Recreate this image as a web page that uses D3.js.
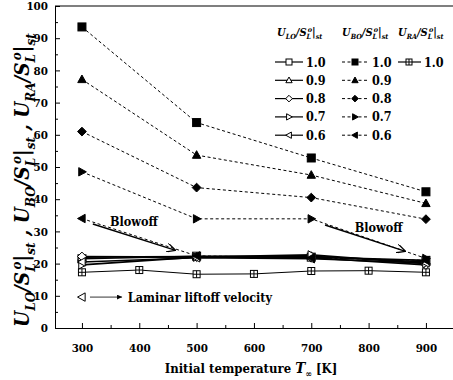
<!doctype html>
<html>
<head>
<meta charset="UTF-8">
<title>Blowoff and liftoff velocities</title>
<style>
	body { margin: 0; background: #fff; }
	svg text { font-weight: bold; fill: #000; font-stretch: condensed; }
</style>
</head>
<body>
<script src="https://cdn.jsdelivr.net/npm/d3@7"></script>
<script>
	// ---- data ----
	var temps = [300, 500, 700, 900];
	var ratioLabels = ['1.0', '0.9', '0.8', '0.7', '0.6'];

	// blowoff velocity (filled, dashed)
	var bo10 = [93.5, 63.8, 52.8, 42.3];
	var bo09 = [77.2, 53.7, 47.5, 38.7];
	var bo08 = [61.0, 43.6, 40.5, 33.8];
	var bo07 = [48.5, 33.9, 33.9, 21.6];
	var bo06 = [34.0, 22.4, 21.8, 21.0];

	// liftoff velocity (open, solid)
	var lo10 = [21.5, 22.3, 22.0, 21.0];
	var lo09 = [22.0, 22.2, 22.3, 20.5];
	var lo08 = [22.2, 22.0, 21.8, 19.6];
	var lo07 = [19.6, 22.0, 22.7, 20.0];
	var lo06 = [20.5, 21.8, 21.5, 20.2];

	// reattachment velocity, ratio 1.0
	var raTemps = [300, 400, 500, 600, 700, 800, 900];
	var raVals = [17.3, 18.0, 16.7, 16.8, 17.7, 17.8, 17.3];

	// laminar liftoff velocity
	var lamTemps = [300];
	var lamVals = [9.6];

	var xTicks = [300, 400, 500, 600, 700, 800, 900];
	var xMinor = [350, 450, 550, 650, 750, 850];
	var yTicks = [0, 10, 20, 30, 40, 50, 60, 70, 80, 90, 100];
	var yMinor = [5, 15, 25, 35, 45, 55, 65, 75, 85, 95];

	var shapes = ['square', 'triUp', 'diamond', 'triRight', 'triLeft'];
	var boSeries = [bo10, bo09, bo08, bo07, bo06];
	var loSeries = [lo10, lo09, lo08, lo07, lo06];

	var w = 453, h = 380;
	var serif = 'DejaVu Serif';

	var svg = d3.select('body').append('svg')
		.attr('width', w)
		.attr('height', h)
		.style('font-family', serif);

	var xScale = d3.scaleLinear().domain([253, 950]).range([55, 454.6]);
	var yScale = d3.scaleLinear().domain([0, 100]).range([328, 6]);

	/**
	* draw one marker
	*/
	var drawMarker = function(g, shape, filled, cx, cy, r) {
		var fill = filled ? '#000' : '#fff';
		var pts;
		if (shape === 'square' || shape === 'squareCross') {
			g.append('rect')
				.attr('x', cx - r).attr('y', cy - r)
				.attr('width', 2 * r).attr('height', 2 * r)
				.attr('fill', fill).attr('stroke', '#000').attr('stroke-width', 1);
			if (shape === 'squareCross') {
				g.append('path')
					.attr('d', 'M' + (cx - r) + ',' + cy + 'H' + (cx + r) + 'M' + cx + ',' + (cy - r) + 'V' + (cy + r))
					.attr('stroke', '#000').attr('stroke-width', 1);
			}
			return;
		}
		if (shape === 'triUp') pts = [[0, -r * 1.1], [r * 1.05, r * 0.8], [-r * 1.05, r * 0.8]];
		if (shape === 'diamond') pts = [[0, -r * 1.1], [r * 1.1, 0], [0, r * 1.1], [-r * 1.1, 0]];
		if (shape === 'triRight') pts = [[r * 1.1, 0], [-r * 0.8, -r * 1.05], [-r * 0.8, r * 1.05]];
		if (shape === 'triLeft') pts = [[-r * 1.1, 0], [r * 0.8, -r * 1.05], [r * 0.8, r * 1.05]];
		g.append('polygon')
			.attr('points', pts.map(function(p) { return (cx + p[0]) + ',' + (cy + p[1]); }).join(' '))
			.attr('fill', fill).attr('stroke', '#000').attr('stroke-width', 1);
	};

	/**
	* text with sub/superscripts; parts = [[text, kind, dx]]
	*/
	var richText = function(t, parts, size) {
		var cur = 0;
		parts.forEach(function(p) {
			var kind = p[1];
			var target = kind === 'sub' ? size * 0.3 : (kind === 'sup' ? -size * 0.4 : 0);
			var ts = t.append('tspan')
				.attr('dy', target - cur)
				.style('font-size', (kind ? size * 0.65 : size) + 'px')
				.text(p[0]);
			if (p[2]) ts.attr('dx', p[2]);
			cur = target;
		});
	};

	var ratioParts = function(name, size) {
		return [['U', null], [name, 'sub'], ['/S', null], ['L', 'sub'], ['o', 'sup', -size * 0.3], ['|', null], ['st', 'sub']];
	};

	// ---- axes ----
	svg.append('g')
		.attr('transform', 'translate(0,' + yScale(0) + ')')
		.call(d3.axisBottom(xScale).tickValues(xTicks).tickSize(-5).tickPadding(16).tickFormat(d3.format('d')));
	svg.append('g')
		.attr('transform', 'translate(0,' + yScale(0) + ')')
		.call(d3.axisBottom(xScale).tickValues(xMinor).tickSize(-3).tickFormat(''))
		.select('.domain').remove();

	svg.append('g')
		.attr('transform', 'translate(' + xScale(253) + ',0)')
		.call(d3.axisLeft(yScale).tickValues(yTicks).tickSize(-5).tickPadding(7).tickFormat(d3.format('d')));
	svg.append('g')
		.attr('transform', 'translate(' + xScale(253) + ',0)')
		.call(d3.axisLeft(yScale).tickValues(yMinor).tickSize(-3).tickFormat(''))
		.select('.domain').remove();

	svg.selectAll('g').attr('font-family', null);
	svg.selectAll('.tick text')
		.style('font-size', '11.5px')
		.style('font-weight', 'bold');
	svg.selectAll('.domain, .tick line').attr('stroke', '#000').attr('stroke-width', 1);

	// top frame
	svg.append('line')
		.attr('x1', xScale(253)).attr('x2', w)
		.attr('y1', yScale(100)).attr('y2', yScale(100))
		.attr('stroke', '#000').attr('stroke-width', 1.2);

	// ---- lines ----
	var line = d3.line()
		.x(function(d) { return xScale(d[0]); })
		.y(function(d) { return yScale(d[1]); });

	boSeries.forEach(function(vals) {
		svg.append('path')
			.attr('d', line(d3.zip(temps, vals)))
			.attr('fill', 'none').attr('stroke', '#000')
			.attr('stroke-width', 1).attr('stroke-dasharray', '3,2.5');
	});
	loSeries.forEach(function(vals) {
		svg.append('path')
			.attr('d', line(d3.zip(temps, vals)))
			.attr('fill', 'none').attr('stroke', '#000')
			.attr('stroke-width', 1.6);
	});
	svg.append('path')
		.attr('d', line(d3.zip(raTemps, raVals)))
		.attr('fill', 'none').attr('stroke', '#000')
		.attr('stroke-width', 1);

	// ---- markers ----
	var mk = svg.append('g');
	d3.zip(raTemps, raVals).forEach(function(d) {
		drawMarker(mk, 'squareCross', false, xScale(d[0]), yScale(d[1]), 3.5);
	});
	loSeries.forEach(function(vals, i) {
		temps.forEach(function(t, j) {
			drawMarker(mk, shapes[i], false, xScale(t), yScale(vals[j]), 4);
		});
	});
	boSeries.forEach(function(vals, i) {
		temps.forEach(function(t, j) {
			drawMarker(mk, shapes[i], true, xScale(t), yScale(vals[j]), 4);
		});
	});
	d3.zip(lamTemps, lamVals).forEach(function(d) {
		drawMarker(mk, 'triLeft', false, xScale(d[0]), yScale(d[1]), 4);
	});

	// ---- annotations ----
	var defs = svg.append('defs');
	defs.append('marker')
		.attr('id', 'vhead').attr('viewBox', '0 0 10 10')
		.attr('refX', 9).attr('refY', 5)
		.attr('markerWidth', 9).attr('markerHeight', 9)
		.attr('markerUnits', 'userSpaceOnUse')
		.attr('orient', 'auto')
		.append('path').attr('d', 'M0,0 L10,5 L0,10')
		.attr('fill', 'none').attr('stroke', '#000').attr('stroke-width', 1.4);
	defs.append('marker')
		.attr('id', 'fhead').attr('viewBox', '0 0 10 10')
		.attr('refX', 10).attr('refY', 5)
		.attr('markerWidth', 6).attr('markerHeight', 5)
		.attr('markerUnits', 'userSpaceOnUse')
		.attr('orient', 'auto')
		.append('path').attr('d', 'M0,0 L10,5 L0,10 Z').attr('fill', '#000');

	var arrows = [[319, 32.3, 462, 24.2], [724, 32.0, 863, 23.9]];
	arrows.forEach(function(a) {
		svg.append('line')
			.attr('x1', xScale(a[0])).attr('y1', yScale(a[1]))
			.attr('x2', xScale(a[2])).attr('y2', yScale(a[3]))
			.attr('stroke', '#000').attr('stroke-width', 1.4)
			.attr('marker-end', 'url(#vhead)');
	});
	[[349, 31.7], [776, 29.9]].forEach(function(p) {
		svg.append('text')
			.attr('x', xScale(p[0])).attr('y', yScale(p[1]))
			.style('font-size', '12.5px')
			.text('Blowoff');
	});

	svg.append('line')
		.attr('x1', xScale(314)).attr('x2', xScale(370))
		.attr('y1', yScale(9.6)).attr('y2', yScale(9.6))
		.attr('stroke', '#000').attr('stroke-width', 0.8)
		.attr('marker-end', 'url(#fhead)');
	svg.append('text')
		.attr('x', xScale(380)).attr('y', yScale(8.2))
		.style('font-size', '12.5px')
		.text('Laminar liftoff velocity');

	// ---- legend ----
	var lg = svg.append('g');
	var rowY = function(i) { return 62 + i * 18.3; };
	var headers = [['LO', 277], ['BO', 342], ['RA', 398]];
	headers.forEach(function(hd) {
		var t = lg.append('text')
			.attr('x', hd[1]).attr('y', 36)
			.style('font-style', 'italic');
		richText(t, ratioParts(hd[0], 11), 11);
	});
	ratioLabels.forEach(function(lab, i) {
		var yy = rowY(i);
		lg.append('line').attr('x1', 275).attr('x2', 303).attr('y1', yy).attr('y2', yy)
			.attr('stroke', '#000').attr('stroke-width', 1.2);
		drawMarker(lg, shapes[i], false, 289, yy, 3);
		lg.append('text').attr('x', 306).attr('y', yy + 4.5).style('font-size', '12.5px').text(lab);

		lg.append('line').attr('x1', 342).attr('x2', 367).attr('y1', yy).attr('y2', yy)
			.attr('stroke', '#000').attr('stroke-width', 1).attr('stroke-dasharray', '3,2.5');
		drawMarker(lg, shapes[i], true, 355, yy, 3);
		lg.append('text').attr('x', 372).attr('y', yy + 4.5).style('font-size', '12.5px').text(lab);
	});
	lg.append('line').attr('x1', 398).attr('x2', 421).attr('y1', rowY(0)).attr('y2', rowY(0))
		.attr('stroke', '#000').attr('stroke-width', 1.2);
	drawMarker(lg, 'squareCross', false, 409, rowY(0), 3);
	lg.append('text').attr('x', 424).attr('y', rowY(0) + 4.5).style('font-size', '12.5px').text('1.0');

	// ---- axis titles ----
	var xt = svg.append('text')
		.attr('x', 251).attr('y', 373)
		.attr('text-anchor', 'middle')
		.style('font-size', '13px');
	xt.append('tspan').text('Initial temperature  ');
	xt.append('tspan').style('font-style', 'italic').style('font-size', '15px').text('T');
	xt.append('tspan').attr('dy', 4).style('font-size', '9px').style('font-style', 'italic').text('\u221e');
	xt.append('tspan').attr('dy', -4).text('  [K]');

	var yt = svg.append('text')
		.attr('transform', 'translate(29,180) rotate(-90)')
		.attr('text-anchor', 'middle')
		.style('font-style', 'italic');
	var yparts = ratioParts('LO', 20.5)
		.concat([[' , ', null]]).concat(ratioParts('BO', 20.5))
		.concat([[' , ', null]]).concat(ratioParts('RA', 20.5));
	richText(yt, yparts, 20.5);
</script>
</body>
</html>
